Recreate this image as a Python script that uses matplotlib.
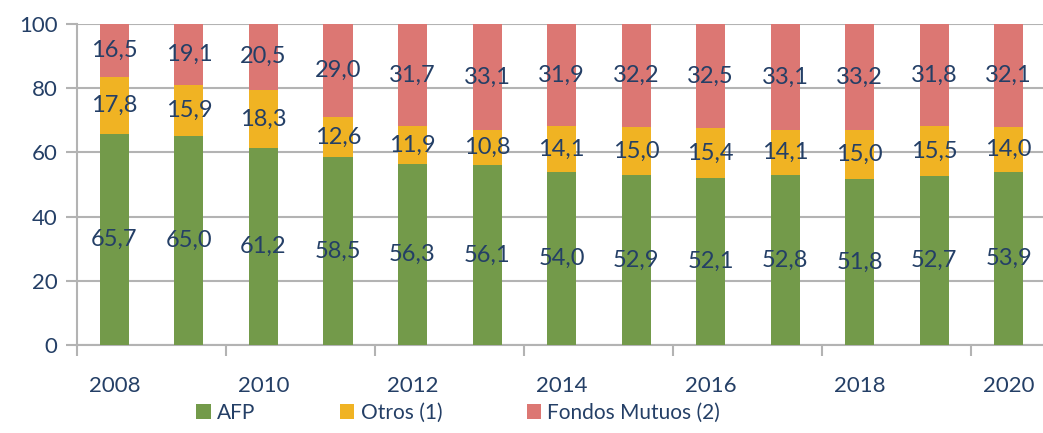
import matplotlib
matplotlib.use("Agg")
import matplotlib.pyplot as plt
import numpy as np

plt.rcParams["font.family"] = ["Lato", "DejaVu Sans"]

years = [2008, 2009, 2010, 2011, 2012, 2013, 2014, 2015, 2016, 2017, 2018, 2019, 2020]
afp = [65.7, 65.0, 61.2, 58.5, 56.3, 56.1, 54.0, 52.9, 52.1, 52.8, 51.8, 52.7, 53.9]
otros = [17.8, 15.9, 18.3, 12.6, 11.9, 10.8, 14.1, 15.0, 15.4, 14.1, 15.0, 15.5, 14.0]
fondos = [16.5, 19.1, 20.5, 29.0, 31.7, 33.1, 31.9, 32.2, 32.5, 33.1, 33.2, 31.8, 32.1]

TEXT = "#243F66"
GRID = "#B3B3B3"
colors = ["#739A4A", "#F0B323", "#DC7773"]
labels = ["AFP", "Otros (1)", "Fondos Mutuos (2)"]


def fmt(v):
    return f"{v:.1f}".replace(".", ",")


fig = plt.figure(figsize=(10.43, 4.33), dpi=100)
ax = fig.add_axes([0.074, 0.203, 0.926, 0.742])

x = np.arange(len(years))
bottom = np.zeros(len(years))
for vals, col, lab in zip([afp, otros, fondos], colors, labels):
    vals = np.array(vals)
    ax.bar(x, vals, width=0.39, bottom=bottom, color=col, label=lab, zorder=3)
    for xi, b, v in zip(x, bottom, vals):
        ax.text(xi, b + v / 2, fmt(v), ha="center", va="center",
                fontsize=17, color=TEXT, zorder=4)
    bottom += vals

ax.set_ylim(0, 100)
ax.set_xlim(-0.5, 12.46)
ax.set_yticks(range(0, 101, 20))
ax.yaxis.grid(True, color=GRID, linewidth=1.5, zorder=0)
ax.tick_params(axis="y", length=8, width=1.5, color=GRID, labelsize=16,
               labelcolor=TEXT, pad=6)

# labels on even years, tick marks every two categories
ax.set_xticks(x[::2])
ax.set_xticklabels([str(y) for y in years[::2]])
ax.tick_params(axis="x", length=0, labelsize=16, labelcolor=TEXT, pad=22)
ax.set_xticks(np.arange(-0.5, 12.5, 2), minor=True)
ax.tick_params(axis="x", which="minor", length=8, width=1.5, color=GRID)

for side in ["top", "right"]:
    ax.spines[side].set_visible(False)
for side in ["left", "bottom"]:
    ax.spines[side].set_color(GRID)
    ax.spines[side].set_linewidth(1.5)

leg = fig.legend(loc="center left", bbox_to_anchor=(0.188, 0.046), ncol=3,
                 frameon=False, fontsize=15, handlelength=0.7,
                 handleheight=0.7, handletextpad=0.3, columnspacing=4.05,
                 borderpad=0, borderaxespad=0)
for t in leg.get_texts():
    t.set_color(TEXT)

fig.savefig("out.png", dpi=100)
